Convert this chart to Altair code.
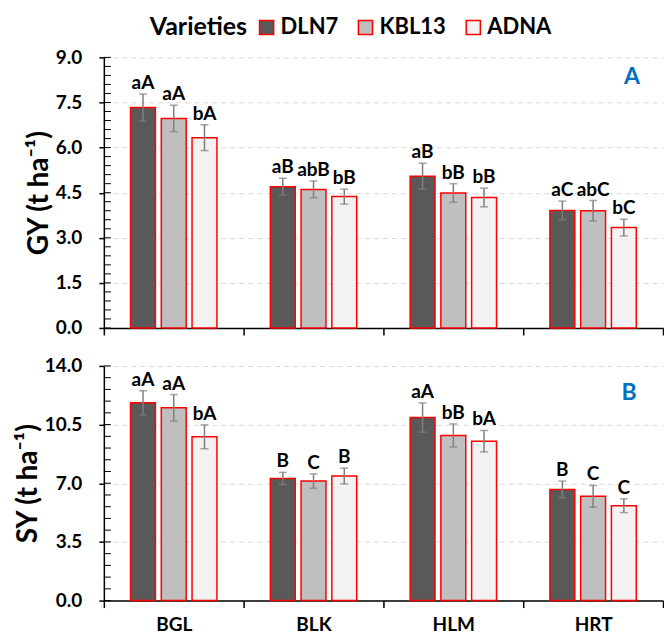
import altair as alt
import pandas as pd

SITES = ["BGL", "BLK", "HLM", "HRT"]
VARIETIES = ["DLN7", "KBL13", "ADNA"]
COLORS = ["#595959", "#BFBFBF", "#F2F2F2"]

# Grain yield (GY, t/ha)
GY = {
    "DLN7": [7.33, 4.70, 5.05, 3.91],
    "KBL13": [6.97, 4.61, 4.49, 3.90],
    "ADNA": [6.33, 4.37, 4.34, 3.34],
}
GY_ERR = {
    "DLN7": [0.45, 0.28, 0.43, 0.31],
    "KBL13": [0.44, 0.28, 0.31, 0.34],
    "ADNA": [0.43, 0.25, 0.31, 0.28],
}
GY_LETTERS = {
    "DLN7": ["aA", "aB", "aB", "aC"],
    "KBL13": ["aA", "abB", "bB", "abC"],
    "ADNA": ["bA", "bB", "bB", "bC"],
}

# Straw yield (SY, t/ha)
SY = {
    "DLN7": [11.80, 7.29, 10.92, 6.63],
    "KBL13": [11.50, 7.13, 9.85, 6.22],
    "ADNA": [9.77, 7.43, 9.51, 5.66],
}
SY_ERR = {
    "DLN7": [0.72, 0.36, 0.87, 0.50],
    "KBL13": [0.79, 0.43, 0.69, 0.65],
    "ADNA": [0.71, 0.47, 0.64, 0.41],
}
SY_LETTERS = {
    "DLN7": ["aA", "B", "aA", "B"],
    "KBL13": ["aA", "C", "bB", "C"],
    "ADNA": ["bA", "B", "bA", "C"],
}

GY_MAJOR = [0.0, 1.5, 3.0, 4.5, 6.0, 7.5, 9.0]
GY_MINOR = [0.0, 0.3, 0.6, 0.9, 1.2, 1.5, 1.8, 2.1, 2.4, 2.7, 3.0, 3.3, 3.6, 3.9,
            4.2, 4.5, 4.8, 5.1, 5.4, 5.7, 6.0, 6.3, 6.6, 6.9, 7.2, 7.5, 7.8,
            8.1, 8.4, 8.7, 9.0]
SY_MAJOR = [0.0, 3.5, 7.0, 10.5, 14.0]
SY_MINOR = [0.0, 0.7, 1.4, 2.1, 2.8, 3.5, 4.2, 4.9, 5.6, 6.3, 7.0, 7.7, 8.4,
            9.1, 9.8, 10.5, 11.2, 11.9, 12.6, 13.3, 14.0]

FONT = "Lato"


def make_df(vals, errs, letters):
    rows = []
    for var in VARIETIES:
        for i, site in enumerate(SITES):
            m = vals[var][i]
            e = errs[var][i]
            rows.append(dict(site=site, variety=var, value=m, lo=m - e, hi=m + e,
                             letter=letters[var][i]))
    return pd.DataFrame(rows)


def panel(df, major, minor, ymax, title, label, height, show_labels, lx, ly):
    x = alt.X("site:N", sort=SITES, title=None,
              scale=alt.Scale(paddingInner=0, paddingOuter=0),
              axis=alt.Axis(labels=show_labels, tickBand="extent", tickSize=7,
                            tickColor="black", tickWidth=1.5, domainColor="black",
                            domainWidth=1.5, labelAngle=0, labelFont=FONT,
                            labelFontSize=19, labelFontWeight="bold",
                            labelColor="black", labelPadding=8, grid=False))
    xo = alt.XOffset("variety:N", sort=VARIETIES,
                     scale=alt.Scale(domain=VARIETIES, paddingInner=0.19,
                                     paddingOuter=0.868))
    yaxis = alt.Axis(values=major, format=".1f", title=title, grid=True,
                     gridDash=[5, 4], gridColor="#D9D9D9", gridWidth=1,
                     tickSize=5, tickColor="black", tickWidth=1.5,
                     domainColor="black", domainWidth=1.5,
                     labelFont=FONT, labelFontSize=19, labelFontWeight="bold",
                     labelColor="black", labelPadding=17,
                     titleFont=FONT, titleFontSize=28, titleFontWeight="bold",
                     titleColor="black", titlePadding=2)
    yscale = alt.Scale(domain=[0, ymax], nice=False, zero=True)

    def yenc(field):
        return alt.Y(field, scale=yscale, axis=yaxis, title=title)

    base = alt.Chart(df)
    ticks = alt.Chart(pd.DataFrame({"t": minor})).mark_rule(
        color="black", strokeWidth=1).encode(
        x=alt.value(0), x2=alt.value(7), y=yenc("t:Q"))
    bars = base.mark_bar(stroke="#FF0000", strokeWidth=1.5).encode(
        x=x, xOffset=xo, y=yenc("value:Q"),
        fill=alt.Fill("variety:N", sort=VARIETIES,
                      scale=alt.Scale(domain=VARIETIES, range=COLORS),
                      legend=alt.Legend(
                          title="Varieties", orient="none", legendX=46,
                          legendY=-41, direction="horizontal",
                          titleOrient="left", symbolType="square",
                          symbolSize=200, symbolStrokeColor="#FF0000",
                          symbolStrokeWidth=1.5, symbolOpacity=1,
                          labelFont=FONT, labelFontSize=22,
                          labelFontWeight="bold", labelColor="black",
                          titleFont=FONT, titleFontSize=25,
                          titleFontWeight="bold", titleColor="black",
                          columnPadding=16, labelOffset=3, titlePadding=8)))
    err = base.mark_rule(color="#7F7F7F", strokeWidth=1.5).encode(
        x=x, xOffset=xo, y=yenc("lo:Q"), y2="hi:Q")
    cap_hi = base.mark_tick(orient="horizontal", size=8, thickness=1.5,
                            color="#7F7F7F").encode(x=x, xOffset=xo, y=yenc("hi:Q"))
    cap_lo = base.mark_tick(orient="horizontal", size=8, thickness=1.5,
                            color="#7F7F7F").encode(x=x, xOffset=xo, y=yenc("lo:Q"))
    txt = base.mark_text(dy=-5, baseline="alphabetic", font=FONT, fontSize=19,
                         fontWeight="bold", color="black").encode(
        x=x, xOffset=xo, y=yenc("hi:Q"), text="letter:N")
    plab = alt.Chart(pd.DataFrame({"lab": [label]})).mark_text(
        font=FONT, fontSize=23, fontWeight="bold", color="#0070C0").encode(
        x=alt.value(lx), y=alt.value(ly), text="lab:N")
    return alt.layer(ticks, bars, err, cap_hi, cap_lo, txt, plab).properties(
        width=560, height=height)


gy_df = make_df(GY, GY_ERR, GY_LETTERS)
sy_df = make_df(SY, SY_ERR, SY_LETTERS)

top = panel(gy_df, GY_MAJOR, GY_MINOR, 9.0, "GY (t ha⁻¹)", "A", 271, False, 529, 20)
bottom = panel(sy_df, SY_MAJOR, SY_MINOR, 14.0, "SY (t ha⁻¹)", "B", 235, True, 526, 27)

chart = alt.vconcat(top, bottom, spacing=38, bounds="flush").properties(
    padding={"left": 14, "top": 16, "right": 0, "bottom": 0},
    background="white",
).configure_view(stroke=None)

chart.save("out.html", embed_options={"renderer": "svg", "actions": False})
